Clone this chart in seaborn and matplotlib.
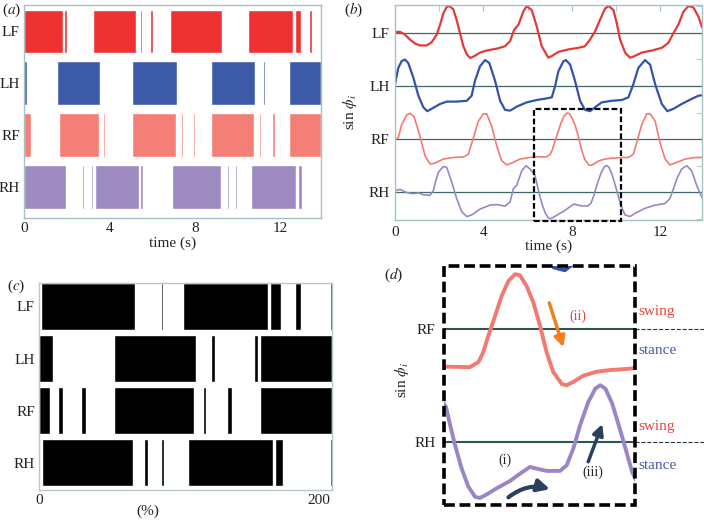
import numpy as np
import matplotlib
matplotlib.use("Agg")
import matplotlib.pyplot as plt
import matplotlib.transforms as mtransforms
from matplotlib.patches import Rectangle
import seaborn as sns

# ---- data --------------------------------------------------------------
legs = ['LF', 'LH', 'RF', 'RH']

# (a) stance intervals per leg, seconds
a_LF = [(0, 1.81), (1.88, 1.99), (3.21, 5.26), (5.42, 5.51), (5.88, 6.04), (6.85, 9.28),
        (9.90, 9.98), (10.49, 12.61), (12.67, 12.95), (13.35, 13.48)]
a_LH = [(0, 0.12), (1.56, 3.58), (5.06, 7.18), (8.76, 10.82), (11.18, 11.28),
        (12.30, 12.36), (12.39, 13.9)]
a_RF = [(0, 0.33), (1.62, 3.50), (3.69, 3.78), (5.06, 7.10), (7.33, 7.46), (7.91, 8.02),
        (8.76, 10.75), (11.02, 11.10), (11.60, 11.74), (12.42, 13.9)]
a_RH = [(0, 1.95), (2.71, 2.79), (3.13, 3.22), (3.30, 5.37), (5.42, 5.57), (6.91, 9.20),
        (9.51, 9.60), (9.88, 9.98), (10.61, 12.75), (12.81, 13.00)]

# (c) stance intervals per leg, percent of cycle
c_LF = [(1.2, 68.7), (86.9, 89.0), (103.3, 163.5), (164.9, 172.8), (183.3, 187.1), (208.4, 209.3)]
c_LH = [(0, 10.3), (53.7, 112.6), (122.7, 125.8), (153.9, 156.6), (157.8, 209.5)]
c_RF = [(0, 7.9), (13.6, 17.2), (30.1, 33.7), (53.7, 110.5), (117.4, 119.6), (134.1, 138.2),
        (158.0, 209.5)]
c_RH = [(2.4, 67.1), (75.2, 78.0), (86.9, 89.3), (106.4, 167.1), (168.7, 174.5), (208.4, 209.5)]

# (b)/(d) sin(phi) traces
LF_t = [0, 0.23, 0.45, 0.68, 0.91, 1.13, 1.43, 1.66, 1.89, 2.04,
        2.19, 2.34, 2.46, 2.64, 2.79, 2.94, 3.09, 3.25, 3.40, 3.55,
        3.85, 4.15, 4.61, 4.98, 5.21, 5.39, 5.59, 5.81, 5.96, 6.19,
        6.42, 6.64, 6.94, 7.10, 7.40, 7.85, 8.30, 8.60, 8.83, 9.06,
        9.28, 9.51, 9.68, 9.89, 10.04, 10.19, 10.42, 10.64, 10.79, 11.17,
        11.63, 12.08, 12.38, 12.61, 12.83, 13.06, 13.28, 13.51, 13.74, 13.9]
LF_v = [0.03, 0.03, -0.07, -0.26, -0.41, -0.48, -0.48, -0.36, -0.07, 0.30,
        0.73, 0.97, 1.0, 0.88, 0.48, -0.01, -0.5, -0.81, -0.95, -0.9,
        -0.75, -0.67, -0.6, -0.51, -0.32, 0.1, 0.3, 0.79, 1.0, 0.85,
        0.23, -0.5, -0.94, -0.88, -0.72, -0.63, -0.57, -0.51, -0.26, 0.05,
        0.48, 0.91, 1.0, 0.85, 0.36, -0.26, -0.75, -0.94, -0.9, -0.75,
        -0.67, -0.57, -0.38, -0.01, 0.3, 0.79, 1.0, 0.95, 0.6, 0.2]

LH_t = [0, 0.15, 0.30, 0.45, 0.60, 0.83, 1.06, 1.28, 1.46, 1.66,
        2.04, 2.34, 2.79, 3.25, 3.47, 3.62, 3.85, 4.08, 4.27, 4.53,
        4.76, 4.98, 5.21, 5.51, 5.96, 6.42, 6.87, 7.10, 7.25, 7.40,
        7.63, 7.74, 7.93, 8.15, 8.38, 8.60, 8.83, 9.06, 9.36, 9.81,
        10.27, 10.57, 10.79, 11.02, 11.32, 11.55, 11.78, 12.08, 12.33, 12.61,
        12.98, 13.43, 13.74, 13.9]
LH_v = [0.06, 0.68, 0.93, 0.99, 0.86, 0.31, -0.37, -0.8, -0.95, -0.86,
        -0.68, -0.59, -0.59, -0.56, -0.37, 0.19, 0.74, 0.97, 0.86, 0.19,
        -0.56, -0.9, -0.93, -0.78, -0.62, -0.53, -0.47, -0.43, 0.0, 0.56,
        0.93, 0.97, 0.8, 0.19, -0.56, -0.9, -0.95, -0.8, -0.62, -0.56,
        -0.53, -0.43, 0.06, 0.68, 0.97, 0.8, 0.06, -0.68, -0.95, -0.86,
        -0.68, -0.49, -0.37, -0.35]

RF_t = [0, 0.15, 0.30, 0.53, 0.68, 0.86, 1.13, 1.36, 1.59, 1.81,
        2.19, 2.64, 3.10, 3.32, 3.55, 3.77, 4.0, 4.15, 4.38, 4.61,
        4.83, 5.06, 5.28, 5.66, 6.11, 6.32, 6.84, 7.02, 7.12, 7.23,
        7.37, 7.51, 7.65, 7.79, 7.89, 8.03, 8.17, 8.31, 8.45, 8.59,
        8.77, 8.87, 9.01, 9.22, 9.50, 9.78, 9.99, 10.27, 10.57, 10.79,
        10.94, 11.17, 11.40, 11.55, 11.78, 12.0, 12.23, 12.45, 12.68, 13.13,
        13.59, 13.9]
RF_v = [-0.01, 0.05, 0.54, 0.91, 0.97, 0.85, 0.11, -0.63, -0.94, -0.9,
        -0.75, -0.69, -0.67, -0.57, 0.05, 0.67, 0.95, 0.95, 0.48, -0.26,
        -0.81, -0.97, -0.9, -0.75, -0.69, -0.66, -0.67, -0.58, -0.41, -0.11,
        0.24, 0.6, 0.86, 0.98, 0.96, 0.77, 0.48, 0.07, -0.41, -0.76,
        -0.97, -0.99, -0.93, -0.82, -0.75, -0.72, -0.71, -0.69, -0.69, -0.57,
        -0.14, 0.54, 0.95, 0.95, 0.67, -0.14, -0.75, -0.97, -0.9, -0.75,
        -0.69, -0.69]

RH_t = [0, 0.23, 0.53, 0.83, 1.06, 1.28, 1.59, 1.74, 1.81, 1.96,
        2.19, 2.34, 2.57, 2.79, 3.02, 3.25, 3.47, 3.85, 4.30, 4.61,
        4.98, 5.21, 5.36, 5.51, 5.74, 5.93, 6.11, 6.34, 6.43, 6.53,
        6.67, 6.81, 6.95, 7.05, 7.19, 7.40, 7.68, 7.89, 8.10, 8.24,
        8.45, 8.73, 8.87, 9.01, 9.15, 9.32, 9.47, 9.57, 9.68, 9.82,
        9.96, 10.10, 10.24, 10.42, 10.64, 10.87, 11.32, 11.78, 12.23, 12.45,
        12.61, 12.76, 12.98, 13.21, 13.43, 13.66, 13.9]
RH_v = [0.07, 0.11, -0.01, -0.05, -0.02, -0.09, -0.11, 0.07, 0.32, 0.75,
        0.97, 0.94, 0.38, -0.23, -0.73, -0.91, -0.85, -0.63, -0.48, -0.46,
        -0.52, -0.36, 0.14, 0.26, 0.81, 1.0, 0.88, 0.63, 0.3, -0.05,
        -0.47, -0.79, -0.97, -0.99, -0.93, -0.82, -0.69, -0.56, -0.44, -0.47,
        -0.51, -0.51, -0.41, -0.11, 0.3, 0.71, 0.95, 1.01, 0.95, 0.69,
        0.3, -0.11, -0.53, -0.85, -0.91, -0.79, -0.6, -0.48, -0.42, -0.23,
        0.14, 0.51, 0.88, 1.0, 0.81, 0.26, -0.2]

offsets = [0, -2, -4, -6]
bar_colors = ['#ee3232', '#3d5ba9', '#f47f77', '#9d8ac1']
line_colors = ['#e23a3a', '#3453a8', '#f27a72', '#9a86c4']
frame_col = '#a7c0c0'

# ---- style -------------------------------------------------------------
sns.set_style("white")
plt.rcParams['font.family'] = ['Liberation Serif', 'DejaVu Serif']
plt.rcParams['mathtext.fontset'] = 'stix'
plt.rcParams['text.color'] = '#222222'
plt.rcParams['xtick.color'] = '#222222'
plt.rcParams['ytick.color'] = '#222222'

fig = plt.figure(figsize=(7.04, 5.2), dpi=100)


def px_axes(l, t, r, b):
    return fig.add_axes([l / 704, 1 - b / 520, (r - l) / 704, (b - t) / 520])


def frame(ax, col=frame_col):
    for s in ax.spines.values():
        s.set_color(col)
        s.set_linewidth(1.0)


# (a) gait diagram in time
ax_a = px_axes(24, 5, 321, 218)
for i, (ivs, col) in enumerate(zip([a_LF, a_LH, a_RF, a_RH], bar_colors)):
    ax_a.broken_barh([(s, e - s) for s, e in ivs], (i - 0.42, 0.84), facecolors=col)
ax_a.set_xlim(0, 13.9)
ax_a.set_ylim(3.6, -0.51)
ax_a.set_yticks(range(4), legs)
ax_a.set_xticks([0, 4, 8, 12])
ax_a.tick_params(length=0, labelsize=11, pad=3)
ax_a.set_xlabel('time (s)', fontsize=11, labelpad=1)
frame(ax_a)

# (b) sin(phi) traces
traces = [(LF_t, LF_v), (LH_t, LH_v), (RF_t, RF_v), (RH_t, RH_v)]
widths_b = [1.6, 1.6, 1.2, 1.2]
ax_b = px_axes(395, 5, 702, 220)
for (t, v), off, col, lw in zip(traces, offsets, line_colors, widths_b):
    ax_b.axhline(off, color='#3d6a67', lw=0.9, zorder=1)
    sns.lineplot(x=np.array(t), y=np.array(v) + off, ax=ax_b, color=col, lw=lw,
                 estimator=None, sort=False, legend=False)
ax_b.set_xlim(0, 13.9)
ax_b.set_ylim(-7.04, 1.04)
ax_b.set_yticks(offsets, legs)
ax_b.set_yticks([1, -1, -3, -5, -7], minor=True)
ax_b.set_xticks([0, 4, 8, 12])
ax_b.set_xticks([2, 6, 10], minor=True)
ax_b.tick_params(which='both', direction='in', length=4, color=frame_col,
                 top=True, right=True, labelsize=11, pad=4)
ax_b.set_xlabel('time (s)', fontsize=11, labelpad=1)
ax_b.set_ylabel('')
ax_b.add_patch(Rectangle((6.29, -7.08), 3.93, 4.2, fill=False, ec='black', lw=1.6,
                         ls=(0, (2.6, 1.2)), clip_on=False, zorder=5))
frame(ax_b)
fig.text(350 / 704, 1 - 112 / 520, r'sin $\phi_i$', rotation=90, fontsize=11,
         ha='center', va='center')

# (c) gait diagram in percent
ax_c = px_axes(39, 283, 332, 490)
for i, ivs in enumerate([c_LF, c_LH, c_RF, c_RH]):
    ax_c.broken_barh([(s, e - s) for s, e in ivs], (i - 0.45, 0.9), facecolors='black')
ax_c.set_xlim(0, 209.5)
ax_c.set_ylim(3.52, -0.45)
ax_c.set_yticks(range(4), legs)
ax_c.set_xticks([0, 200])
ax_c.tick_params(length=0, labelsize=11, pad=3)
ax_c.set_xlabel('(%)', fontsize=11)
ax_c.xaxis.set_label_coords(0.37, -0.07)
frame(ax_c, '#b8c8c8')

# (d) close-up of RF / RH
ax_d = px_axes(444, 266, 635, 505)
for (t, v), off, col in zip(traces[1:], offsets[1:], line_colors[1:]):
    sns.lineplot(x=np.array(t), y=np.array(v) + off, ax=ax_d, color=col, lw=2.8,
                 estimator=None, sort=False, legend=False)
ax_d.set_xlim(6.3, 10.3)
ax_d.set_ylim(-7.115, -2.875)
for s in ax_d.spines.values():
    s.set_visible(False)
ax_d.add_patch(Rectangle((0, 0), 1, 1, transform=ax_d.transAxes, fill=False, ec='black',
                         lw=2.6, ls=(0, (3, 1.3)), clip_on=False, zorder=6))
blend = mtransforms.blended_transform_factory(ax_d.transAxes, ax_d.transData)
for off in [-4, -6]:
    ax_d.axhline(off, color='#2f5552', lw=1.5, zorder=1)
    ax_d.plot([1.0, 1.37], [off, off], transform=blend, clip_on=False, ls='--',
              lw=0.8, color='#333333')
ax_d.set_yticks([-4, -6], ['RF', 'RH'])
ax_d.set_xticks([8, 10], ['', ''])
ax_d.tick_params(axis='y', length=0, labelsize=11, pad=6)
ax_d.tick_params(axis='x', direction='in', length=5, width=1, color='#333333')
ax_d.set_xlabel('')
ax_d.set_ylabel('')

for y, word, col in [(-3.68, 'swing', '#e8403c'), (-4.37, 'stance', '#4b5aa6'),
                     (-5.72, 'swing', '#e8403c'), (-6.41, 'stance', '#4b5aa6')]:
    ax_d.text(1.016, y, word, transform=blend, color=col, fontsize=11,
              ha='left', va='center')

ax_d.text(0.702, 0.791, '(ii)', transform=ax_d.transAxes, color='#e0443c', fontsize=10,
          ha='center', va='center')
ax_d.text(0.319, 0.188, '(i)', transform=ax_d.transAxes, fontsize=10, ha='center', va='center')
ax_d.text(0.780, 0.138, '(iii)', transform=ax_d.transAxes, fontsize=10, ha='center', va='center')
ax_d.annotate('', xy=(0.625, 0.660), xytext=(0.551, 0.846), xycoords='axes fraction',
              arrowprops=dict(arrowstyle='-|>', lw=2.5, color='#f08020',
                              mutation_scale=16, shrinkA=0, shrinkB=0))
ax_d.annotate('', xy=(0.829, 0.339), xytext=(0.755, 0.181), xycoords='axes fraction',
              arrowprops=dict(arrowstyle='-|>', lw=2.5, color='#2b3f5e',
                              mutation_scale=16, shrinkA=0, shrinkB=0))
ax_d.annotate('', xy=(0.555, 0.066), xytext=(0.337, 0.032), xycoords='axes fraction',
              arrowprops=dict(arrowstyle='-|>', lw=3, color='#2b3f5e',
                              mutation_scale=18, shrinkA=0, shrinkB=0,
                              connectionstyle='arc3,rad=-0.25'))
fig.text(402 / 704, 1 - 380 / 520, r'sin $\phi_i$', rotation=90, fontsize=11,
         ha='center', va='center')

# panel letters
for x, y, s in [(12, 10, r'($a$)'), (354, 10, r'($b$)'), (16, 286, r'($c$)'), (394, 275, r'($d$)')]:
    fig.text(x / 704, 1 - y / 520, s, fontsize=11, ha='center', va='center')

fig.savefig('out.png', dpi=100)
